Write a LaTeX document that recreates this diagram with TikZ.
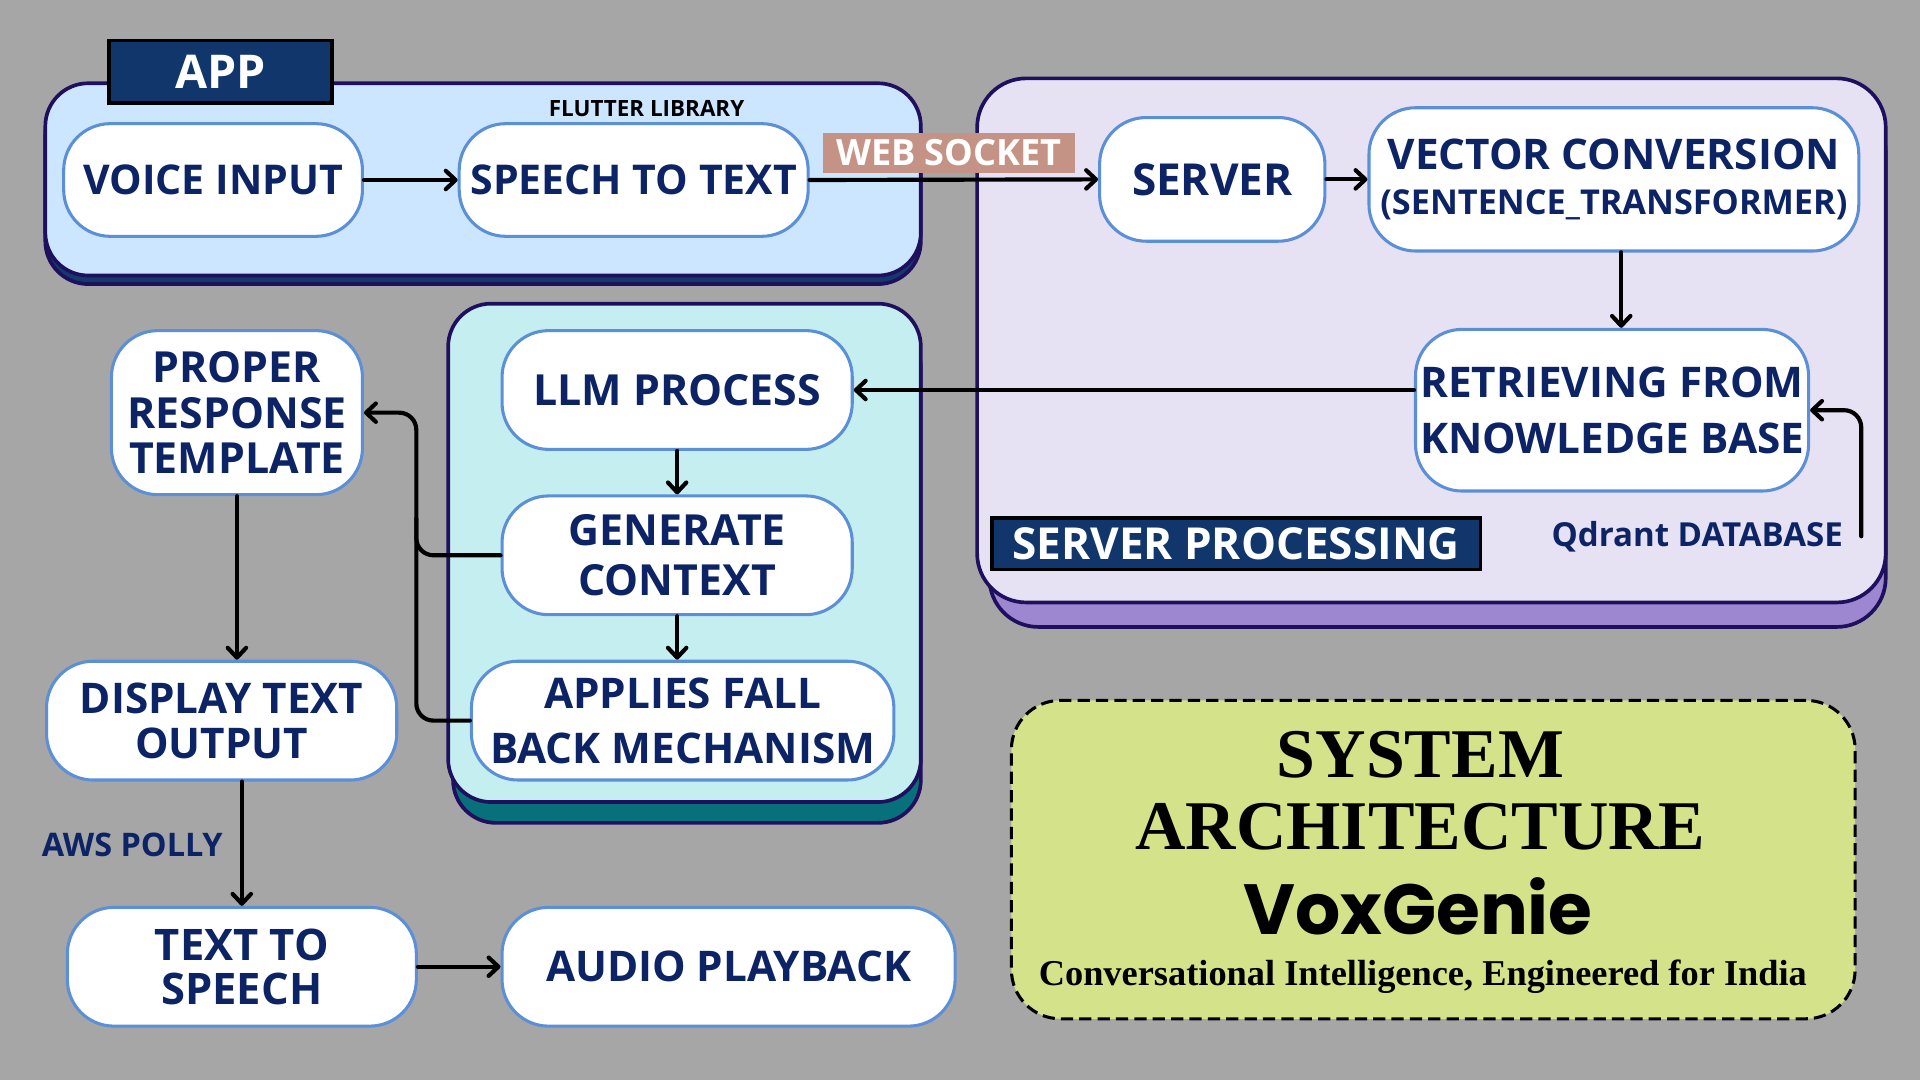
\documentclass[tikz,border=0pt]{standalone}
\usepackage{fontspec}
\setmainfont{Open Sans}
\newfontfamily\serifb{Liberation Serif}
\newfontfamily\popp{Poppins}
\usetikzlibrary{arrows.meta,calc}
\definecolor{bgc}{HTML}{A6A6A6}
\definecolor{navy}{HTML}{0C2366}
\definecolor{boxborder}{HTML}{5B8FD8}
\definecolor{contborder}{HTML}{1F0F5F}
\definecolor{labfill}{HTML}{10366B}
\definecolor{appfill}{HTML}{CCE6FF}
\definecolor{appshadow}{HTML}{143A6B}
\definecolor{srvfill}{HTML}{E6E2F3}
\definecolor{srvshadow}{HTML}{9D87D0}
\definecolor{llmfill}{HTML}{C5EEF1}
\definecolor{llmshadow}{HTML}{08707A}
\definecolor{titlefill}{HTML}{D4E38A}
\definecolor{wsfill}{HTML}{C49385}
\begin{document}
\begin{tikzpicture}[x=1pt,y=-1pt,
  box/.style={draw=boxborder, line width=2.5pt, fill=white, rounded corners=38pt,
    text=navy, align=center, inner sep=0pt,
    font=\bfseries\fontsize{34.5}{39}\selectfont},
  contb/.style={draw=contborder, line width=3pt},
  labbox/.style={fill=labfill, draw=black, line width=3pt, text=white, inner sep=0pt,
    font=\bfseries\fontsize{36}{40}\selectfont},
  lbl/.style={text=navy, inner sep=0pt, font=\bfseries\fontsize{26.5}{30}\selectfont},
  conn/.style={line width=3.4pt, black, line cap=round},
  arr/.style={conn, -{Straight Barb[length=8pt,width=15pt,round]}},
  titlebox/.style={draw=black, line width=2.5pt, dash pattern=on 10pt off 5pt,
    fill=titlefill, rounded corners=40pt, inner sep=0pt}
]
\fill[bgc] (0,0) rectangle (1568,882);
\useasboundingbox (0,0) rectangle (1568,882);

% containers
\draw[contb, fill=appshadow, rounded corners=35pt] (37,75) rectangle (752,232);
\draw[contb, fill=appfill, rounded corners=35pt] (37,68) rectangle (752,225);
\draw[contb, fill=srvshadow, rounded corners=40pt] (808,84) rectangle (1540,512);
\draw[contb, fill=srvfill, rounded corners=40pt] (798,64) rectangle (1540,492);
\draw[contb, fill=llmshadow, rounded corners=35pt] (370,265) rectangle (752,672);
\draw[contb, fill=llmfill, rounded corners=35pt] (366,248) rectangle (752,655);

% container labels
\node[labbox, minimum width=182pt, minimum height=51pt, font=\bfseries\fontsize{38}{42}\selectfont] (applab) at (180,58.5) {APP};
\node[labbox, minimum width=399pt, minimum height=42pt] (srvlab) at (1009.5,444) {SERVER PROCESSING};

% nodes
\node[box, minimum width=244pt, minimum height=92pt, font=\bfseries\fontsize{33.5}{38}\selectfont] (voice) at (174,147) {VOICE INPUT};
\node[box, minimum width=285pt, minimum height=92pt, font=\bfseries\fontsize{33.5}{38}\selectfont] (stt) at (517.5,147) {SPEECH TO TEXT};
\node[box, minimum width=184pt, minimum height=101pt, font=\bfseries\fontsize{36}{40}\selectfont] (server) at (990,146.5) {SERVER};
\node[box, minimum width=400pt, minimum height=117pt] (vector) at (1318,146.5)
  {VECTOR CONVERSION\\[-2pt]{\fontsize{28}{32}\selectfont (SENTENCE\_TRANSFORMER)}};
\node[box, minimum width=321pt, minimum height=132pt, font=\bfseries\fontsize{34.5}{46}\selectfont] (retr) at (1316.5,335) {RETRIEVING FROM\\KNOWLEDGE BASE};
\node[box, minimum width=286pt, minimum height=97pt, font=\bfseries\fontsize{35}{40}\selectfont] (llm) at (553,318.5) {LLM PROCESS};
\node[box, minimum width=286pt, minimum height=97pt, font=\bfseries\fontsize{35}{41}\selectfont] (gen) at (553,453.5) {GENERATE\\CONTEXT};
\node[box, minimum width=345pt, minimum height=97pt, font=\bfseries\fontsize{34.5}{45}\selectfont] (fall) at (557.5,588.5) {APPLIES FALL\\BACK MECHANISM};
\node[box, minimum width=205pt, minimum height=134pt, font=\bfseries\fontsize{35}{37}\selectfont] (proper) at (193.5,337) {PROPER\\RESPONSE\\TEMPLATE};
\node[box, minimum width=286pt, minimum height=97pt, font=\bfseries\fontsize{34.5}{37}\selectfont] (display) at (181,588.5) {DISPLAY TEXT\\OUTPUT};
\node[box, minimum width=285pt, minimum height=97pt, font=\bfseries\fontsize{35.5}{36}\selectfont] (tts) at (197.5,789.5) {TEXT TO\\SPEECH};
\node[box, minimum width=370pt, minimum height=97pt] (audio) at (595,789.5) {AUDIO PLAYBACK};

% small labels
\node[inner sep=0pt, text=black, font=\bfseries\fontsize{18.3}{21}\selectfont] (flut) at (528,89) {FLUTTER LIBRARY};
\node[lbl] (aws) at (108,690) {AWS POLLY};
\node[lbl, font=\bfseries\fontsize{27}{30}\selectfont] (qlab) at (1386,438) {Qdrant DATABASE};

% connectors
\draw[arr] (voice.east) -- (stt.west);
\draw[arr] (stt.east) -- (server.west);
\node[fill=wsfill, text=white, inner sep=0pt, minimum width=206pt, minimum height=32pt,
  font=\bfseries\fontsize{29.5}{32}\selectfont] (ws) at (775,125) {WEB SOCKET};
\draw[arr] (server.east) -- (vector.west);
\coordinate (vs) at (1324,206);
\draw[arr] (vs) -- (vs |- retr.north);
\draw[arr] (llm.east -| retr.west) -- (llm.east);
\draw[arr] (llm.south) -- (gen.north);
\draw[arr] (gen.south) -- (gen.south |- fall.north);
\coordinate (jx) at (340,0);
\coordinate (qd) at (1520,438);
\draw[arr, rounded corners=14pt] (qd) |- (retr.east);
\draw[arr, rounded corners=14pt] (gen.west) -- (gen.west -| jx) -- (proper.east -| jx) -- (proper.east);
\draw[conn, rounded corners=14pt] (fall.west) -- (fall.west -| jx) -- ($(gen.west -| jx)+(0,-30)$);
\draw[arr] (proper.south) -- (proper.south |- display.north);
\draw[arr] (tts.north |- display.south) -- (tts.north);
\draw[arr] (tts.east) -- (audio.west);

% title box
\node[titlebox, minimum width=689pt, minimum height=260pt] (title) at (1170.5,702) {};
\node[inner sep=0pt, font=\serifb\bfseries\fontsize{57}{60}\selectfont] (t1) at (1160,616) {SYSTEM};
\node[inner sep=0pt, font=\serifb\bfseries\fontsize{57}{60}\selectfont] (t2) at (1160,675) {ARCHITECTURE};
\node[inner sep=0pt, font=\popp\bfseries\fontsize{58}{62}\selectfont] (t3) at (1158,740) {VoxGenie};
\node[inner sep=0pt, font=\serifb\bfseries\fontsize{29.7}{34}\selectfont] (t4) at (1162,798) {Conversational Intelligence, Engineered for India};
\end{tikzpicture}
\end{document}
